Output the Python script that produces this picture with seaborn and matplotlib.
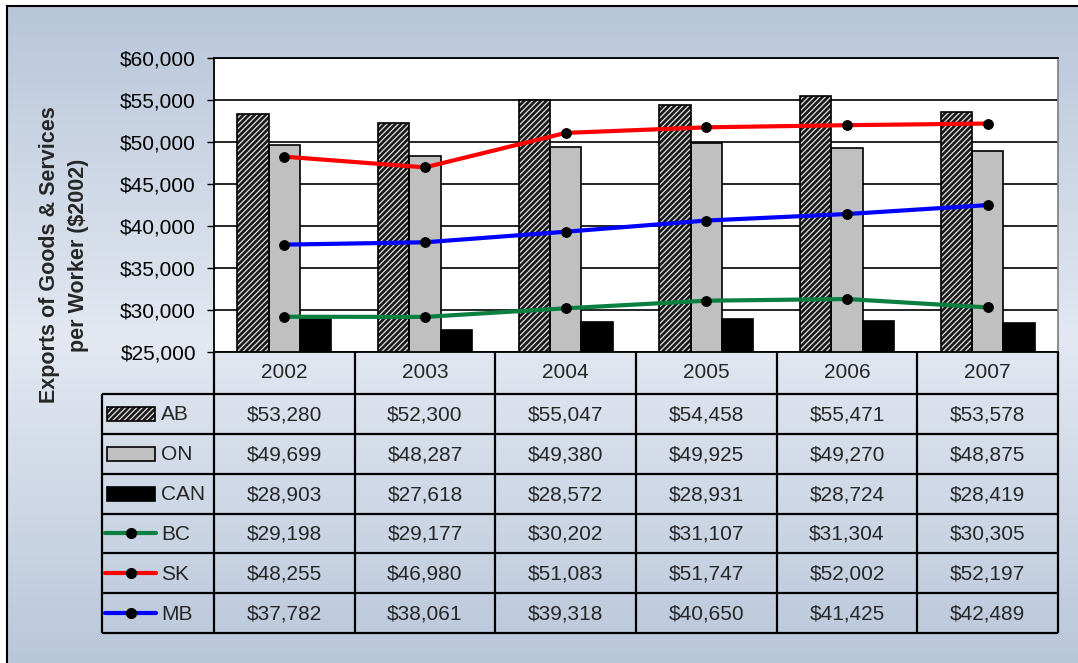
"""Exports of goods & services per worker: bars + lines with a data table below."""

import numpy as np
import pandas as pd
import matplotlib
matplotlib.use("Agg")
import matplotlib.pyplot as plt
import seaborn as sns
from matplotlib.patches import Rectangle
from matplotlib.ticker import FuncFormatter

years = ['2002', '2003', '2004', '2005', '2006', '2007']
ab = [53280, 52300, 55047, 54458, 55471, 53578]
on = [49699, 48287, 49380, 49925, 49270, 48875]
can = [28903, 27618, 28572, 28931, 28724, 28419]
bc = [29198, 29177, 30202, 31107, 31304, 30305]
sk = [48255, 46980, 51083, 51747, 52002, 52197]
mb = [37782, 38061, 39318, 40650, 41425, 42489]

bar_names = ['AB', 'ON', 'CAN']
line_names = ['BC', 'SK', 'MB']
bar_colors = {'AB': '#1a1a1a', 'ON': '#c0c0c0', 'CAN': '#000000'}
line_colors = {'BC': '#0a7f3f', 'SK': '#ff0000', 'MB': '#0000ff'}

sns.set_theme(style='white')
plt.rcParams['font.family'] = ['Liberation Sans', 'DejaVu Sans']
plt.rcParams['hatch.linewidth'] = 0.9

W, H = 1078, 663
FS = 15


def px_rect(x0, y0, x1, y1):
    """Figure rect from pixel box (origin top-left)."""
    return [x0 / W, 1 - y1 / H, (x1 - x0) / W, (y1 - y0) / H]


fig = plt.figure(figsize=(W / 100, H / 100), dpi=100)
fig.patch.set_facecolor('white')

# gradient background with a black frame (top/left visible)
bg = fig.add_axes(px_rect(7, 6, W + 10, H + 10))
t = np.linspace(0, 1, 300)[:, None]
top = np.array([184, 198, 218]) / 255
mid = np.array([227, 232, 241]) / 255
k = 1 - np.abs(2 * t - 1)
grad = top + (mid - top) * k[..., None] * np.ones((1, 1, 3))
bg.imshow(grad, aspect='auto', extent=[0, 1, 0, 1])
bg.set_xticks([])
bg.set_yticks([])
for s in bg.spines.values():
    s.set_color('black')
    s.set_linewidth(1.5)

# main chart
ax = fig.add_axes(px_rect(214, 58, 1058, 352))
ax.set_facecolor('white')
df = pd.DataFrame({
    'year': years * 3,
    'region': [n for n in bar_names for _ in years],
    'value': ab + on + can,
})
sns.barplot(data=df, x='year', y='value', hue='region', hue_order=bar_names,
            palette=bar_colors, saturation=1, width=0.67, edgecolor='black',
            linewidth=1.2, legend=False, ax=ax)

# AB bars: light hatch on dark fill, black outline on top
for bar in ax.containers[0]:
    bar.set_hatch('//////')
    bar.set_edgecolor('#e0e0e0')
    bar.set_linewidth(0)
    ax.add_patch(Rectangle(bar.get_xy(), bar.get_width(), bar.get_height(),
                           fill=False, edgecolor='black', lw=1.2,
                           zorder=bar.get_zorder() + 0.1))

xpos = np.arange(len(years))
for name, vals in zip(line_names, [bc, sk, mb]):
    sns.lineplot(x=xpos, y=vals, color=line_colors[name], lw=3, marker='o',
                 markersize=7, markerfacecolor='black', markeredgecolor='black',
                 ax=ax, zorder=5)

ax.set_xlim(-0.5, len(years) - 0.5)
ax.set_ylim(25000, 60000)
ax.set_yticks(range(25000, 60001, 5000))
ax.yaxis.set_major_formatter(FuncFormatter(lambda v, p: f'${v:,.0f}'))
ax.set_xticks([])
ax.set_xlabel('')
ax.set_ylabel('')
ax.yaxis.grid(True, color='black', lw=1.2)
ax.set_axisbelow(True)
ax.tick_params(axis='y', left=True, length=5, width=1, color='black',
               labelsize=FS, pad=8, labelcolor='black')
for side in ['left', 'top', 'bottom']:
    ax.spines[side].set_color('black')
    ax.spines[side].set_linewidth(1.3)
ax.spines['right'].set_color('#808080')

fig.text(64 / W, 1 - 255 / H, 'Exports of Goods & Services\nper Worker ($2002)',
         rotation=90, ha='center', va='center', fontweight='bold',
         fontsize=15.5, linespacing=1.5, multialignment='center')

# data table under the chart
tab = fig.add_axes([0, 0, 1, 1], zorder=3)
tab.set_xlim(0, W)
tab.set_ylim(H, 0)
tab.axis('off')
tab.patch.set_alpha(0)

col_edges = np.linspace(214, 1058, len(years) + 1)
col_mid = (col_edges[:-1] + col_edges[1:]) / 2
row_edges = np.linspace(394, 633, 7)
row_mid = (row_edges[:-1] + row_edges[1:]) / 2
tlw = 1.6

tab.hlines(row_edges, 102, 1058, color='black', lw=tlw)
tab.vlines(col_edges, 352, 633, color='black', lw=tlw)
tab.vlines(102, 394, 633, color='black', lw=tlw)

for x, yr in zip(col_mid, years):
    tab.text(x, 373, yr, ha='center', va='center', fontsize=FS)

series = [('AB', ab), ('ON', on), ('CAN', can), ('BC', bc), ('SK', sk), ('MB', mb)]
for y, (name, vals) in zip(row_mid, series):
    for x, v in zip(col_mid, vals):
        tab.text(x, y + 1, f'${v:,}', ha='center', va='center', fontsize=FS)
    tab.text(161, y + 1, name, ha='left', va='center', fontsize=FS)
    if name in bar_colors:
        sw = Rectangle((107, y - 7), 48, 14, facecolor=bar_colors[name],
                       edgecolor='black', lw=1.2)
        tab.add_patch(sw)
        if name == 'AB':
            sw.set_hatch('//////')
            sw.set_edgecolor('#e0e0e0')
            sw.set_linewidth(0)
            tab.add_patch(Rectangle((107, y - 7), 48, 14, fill=False,
                                    edgecolor='black', lw=1.2))
    else:
        tab.plot([105, 156], [y, y], color=line_colors[name], lw=3)
        tab.plot([130.5], [y], marker='o', ms=7, color='black')

fig.savefig('out.png', dpi=100)
